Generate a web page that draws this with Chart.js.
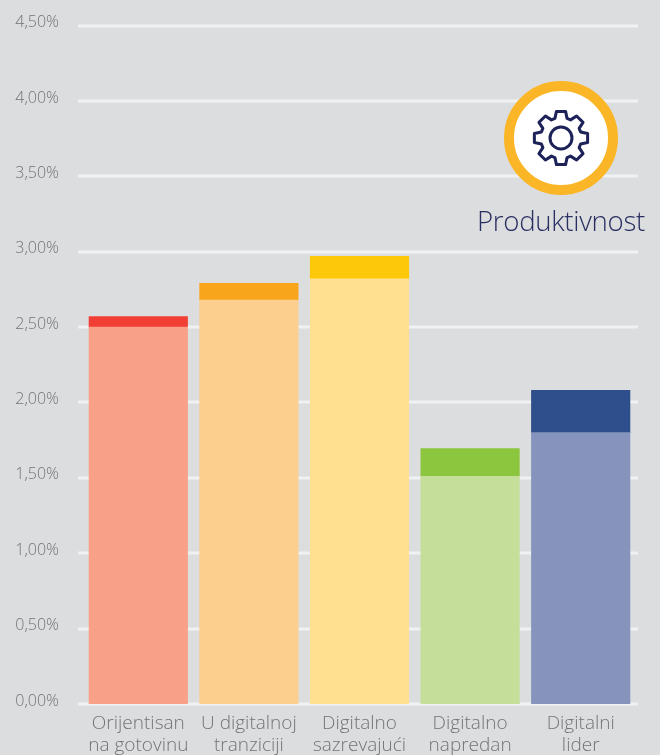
<!DOCTYPE html>
<html><head><meta charset="utf-8">
<script src="https://cdn.jsdelivr.net/npm/chart.js@4"></script>
<style>
html,body{margin:0;padding:0;background:#dcddde;width:660px;height:755px;overflow:hidden}
#wrap{position:relative;width:660px;height:755px}
canvas{display:block}
#title{position:absolute;left:477px;top:201px;font:300 27.6px "Open Sans",sans-serif;color:#2a2f62;white-space:nowrap;letter-spacing:-.3px}
</style></head><body>
<div id="wrap"><canvas id="c" width="660" height="755"></canvas><div id="title">Produktivnost</div></div>
<script>
const categories=[["Orijentisan","na gotovinu"],["U digitalnoj","tranziciji"],["Digitalno","sazrevajući"],["Digitalno","napredan"],["Digitalni","lider"]];
const baseValues=[2.50,2.68,2.82,1.51,1.80];
const topValues=[0.07,0.11,0.15,0.185,0.28];
const baseColors=["#f8a088","#fccf8e","#fee090","#c5de9a","#8694bd"];
const topColors=["#f23f35","#f9a51c","#fec80a","#8cc63f","#2e4f8c"];
const gridColor="#f0f1f2", tickColor="#737476";

const extras={id:"extras",
 beforeDatasetsDraw(ch){
  const c=ch.ctx,y=ch.scales.y;c.save();c.strokeStyle=gridColor;c.lineWidth=3;
  y.ticks.forEach(t=>{const p=Math.round(y.getPixelForValue(t.value));c.beginPath();c.moveTo(78,p);c.lineTo(638,p);c.stroke();});
  c.restore();
 },
 afterDraw(ch){
  const c=ch.ctx,cx=561,cy=138;c.save();
  c.beginPath();c.arc(cx,cy,52,0,Math.PI*2);c.fillStyle="#fff";c.fill();c.lineWidth=10;c.strokeStyle="#fbb627";c.stroke();
  c.strokeStyle="#1d2259";c.lineWidth=3;c.lineJoin="round";
  const n=8,ro=27,ri=20.5;c.beginPath();
  for(let i=0;i<n;i++){
   const a=i*2*Math.PI/n-Math.PI/2, d=0.2, e=0.3;
   [[ri,a-e],[ro,a-d+.03],[ro,a+d-.03],[ri,a+e]].forEach((q,k)=>{
     const x=cx+q[0]*Math.cos(q[1]),yy=cy+q[0]*Math.sin(q[1]);
     (i===0&&k===0)?c.moveTo(x,yy):c.lineTo(x,yy);});
  }
  c.closePath();c.stroke();
  c.beginPath();c.arc(cx,cy,11,0,Math.PI*2);c.stroke();
  c.restore();
 }};

new Chart(document.getElementById("c"),{
 type:"bar",
 data:{labels:categories,datasets:[
  {label:"Osnova",data:baseValues,backgroundColor:baseColors,borderWidth:0,barThickness:98.5},
  {label:"Dodatak",data:topValues,backgroundColor:topColors,borderWidth:0,barThickness:98.5}]},
 options:{responsive:false,animation:false,
  layout:{padding:{top:17,right:24,left:0,bottom:0}},
  plugins:{legend:{display:false},tooltip:{enabled:false},title:{display:false}},
  scales:{
   x:{stacked:true,
    afterFit(s){s.height=51;},
    grid:{display:false},border:{display:false},
    ticks:{color:tickColor,font:{family:"Open Sans",size:19,weight:300,lineHeight:1.15},padding:1,maxRotation:0,autoSkip:false}},
   y:{stacked:true,min:0,max:4.5,
    afterFit(s){s.width=83;},
    grid:{display:false},border:{display:false},
    ticks:{stepSize:0.5,color:tickColor,padding:16,labelOffset:-3,
     font:{family:"Open Sans",size:16,weight:300},
     callback:v=>v.toFixed(2).replace(".",",")+"%"}}
  }},
 plugins:[extras]});
</script></body></html>
